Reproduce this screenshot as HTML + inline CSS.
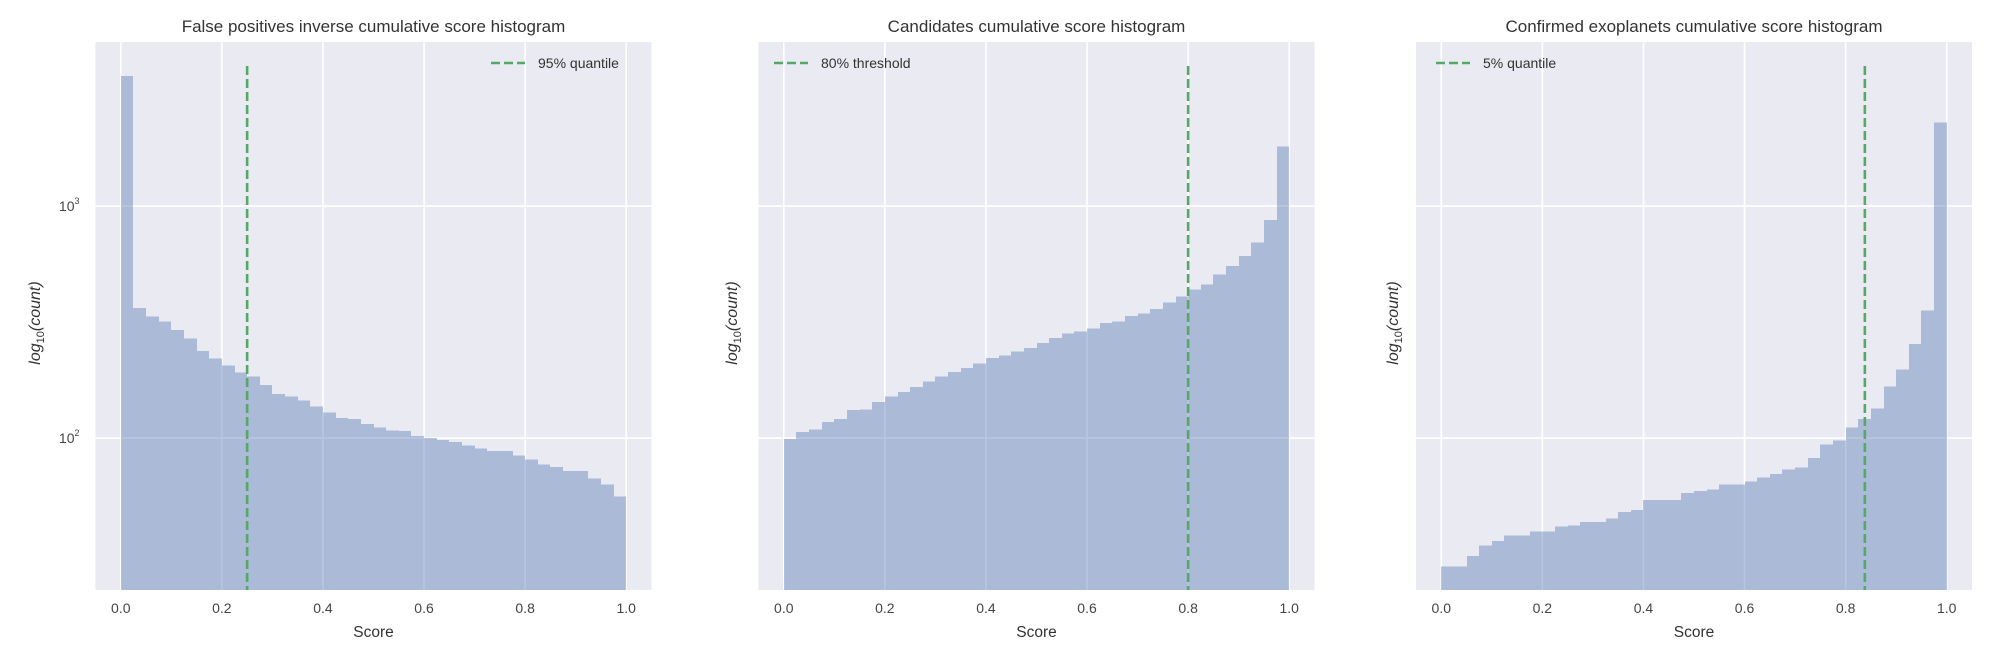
<!DOCTYPE html>
<html><head><meta charset="utf-8"><style>
body{margin:0;background:#fff;width:2006px;height:662px;overflow:hidden}
svg{display:block;font-family:"Liberation Sans",Arial,sans-serif}
</style></head><body>
<svg id="fig" width="2006" height="662" viewBox="0 0 2006 662" xmlns="http://www.w3.org/2000/svg"></svg>
<script>
const binEdges = [0,0.025,0.05,0.075,0.1,0.125,0.15,0.175,0.2,0.225,0.25,0.275,0.3,0.325,0.35,0.375,0.4,0.425,0.45,0.475,0.5,0.525,0.55,0.575,0.6,0.625,0.65,0.675,0.7,0.725,0.75,0.775,0.8,0.825,0.85,0.875,0.9,0.925,0.95,0.975,1.0];
const fpCounts = [3630,363,334,318,292,268,237,220,205,192,184,169,155,151,145,137,129,122,121,115,111,108,107,102,100,98,96,93,90,88,88,84,81,77,75,72,72,67,63,56];
const candCounts = [99,106,109,117,121,132,133,143,151,158,166,175,184,193,200,210,221,227,236,244,257,270,282,288,297,313,318,335,345,359,384,408,436,459,507,552,610,695,871,1803];
const confCounts = [28,28,31,34.5,36,38,38,39.5,39.5,41.5,42,43.5,43.5,45,48,49,54,54,54,58,59,60,63,63,65,67.5,70,73,74.5,82,94,97.5,111,121,134,167,197,254,354,2290];
const xTicks = [0,0.2,0.4,0.6,0.8,1.0];
const xTickLabels = ["0.0","0.2","0.4","0.6","0.8","1.0"];
const yTicks = [100,1000];
const thresholds = [0.25,0.8,0.838];
const titles = ["False positives inverse cumulative score histogram","Candidates cumulative score histogram","Confirmed exoplanets cumulative score histogram"];
const legendLabels = ["95% quantile","80% threshold","5% quantile"];

const NS="http://www.w3.org/2000/svg";
const svg=document.getElementById('fig');
function mk(tag,attrs,parent){const e=document.createElementNS(NS,tag);for(const k in attrs)e.setAttribute(k,attrs[k]);(parent||svg).appendChild(e);return e;}

const panels=[{left:95.5,counts:fpCounts,legX:491,ylabX:35,showY:true},
              {left:758.5,counts:candCounts,legX:774,ylabX:732,showY:false},
              {left:1416,counts:confCounts,legX:1436,ylabX:1393,showY:false}];
const plotW=556, plotTop=42, plotBottom=590;
const logMin=1.345, logMax=3.707;
function yScale(v){return plotBottom-(Math.log10(v)-logMin)/(logMax-logMin)*(plotBottom-plotTop);}

panels.forEach((p,i)=>{
  const g=mk('g',{});
  
  
  function xScale(v){return p.left+plotW*(v+0.05)/1.1;}
  const bg=mk('rect',{x:p.left,y:plotTop,width:plotW,height:plotBottom-plotTop,fill:'#eaeaf2'},g);
  
  
  xTicks.forEach((t,j)=>{
    const l=mk('line',{x1:xScale(t),x2:xScale(t),y1:plotTop,y2:plotBottom,stroke:'#fff','stroke-width':1.6},g);
    
    
    const tx=mk('text',{x:xScale(t),y:613,'font-size':14,fill:'#444','text-anchor':'middle'},g);
    
    
    tx.textContent=xTickLabels[j];
  });
  yTicks.forEach(t=>{
    const l=mk('line',{x1:p.left,x2:p.left+plotW,y1:yScale(t),y2:yScale(t),stroke:'#fff','stroke-width':1.6},g);
    
    
    if(p.showY){
      const tx=mk('text',{x:p.left-16,y:yScale(t)+5,'font-size':14,fill:'#444','text-anchor':'end'},g);
      
      
      tx.textContent='10';
      const sup=mk('tspan',{'font-size':9,dy:-7},tx);
      sup.textContent=String(Math.round(Math.log10(t)));
    }
  });
  p.counts.forEach((c,k)=>{
    const x0=Math.round(xScale(binEdges[k])), x1=Math.round(xScale(binEdges[k+1]));
    const r=mk('rect',{x:x0,y:yScale(c),width:x1-x0,height:plotBottom-yScale(c),fill:'#4c72b0','fill-opacity':0.4,'shape-rendering':'crispEdges'},g);
    
    
  });
  const th=mk('line',{x1:xScale(thresholds[i]),x2:xScale(thresholds[i]),y1:66,y2:plotBottom,stroke:'#55a868','stroke-width':2.6,'stroke-dasharray':'9,4'},g);
  
  
  const lg=mk('g',{},g);
  
  
  mk('line',{x1:p.legX,x2:p.legX+34,y1:63,y2:63,stroke:'#55a868','stroke-width':2.6,'stroke-dasharray':'9,4'},lg);
  const lt=mk('text',{x:p.legX+47,y:68,'font-size':14,fill:'#333'},lg);
  lt.textContent=legendLabels[i];
  const tt=mk('text',{x:p.left+plotW/2,y:32,'font-size':17,fill:'#333','text-anchor':'middle'},g);
  
  
  tt.textContent=titles[i];
  const xl=mk('text',{x:p.left+plotW/2,y:637,'font-size':15.5,fill:'#333','text-anchor':'middle'},g);
  
  
  xl.textContent='Score';
  const yl=mk('text',{x:0,y:0,'font-size':16,fill:'#333','text-anchor':'middle','font-style':'italic',transform:`translate(${p.ylabX+5},323) rotate(-90)`},g);
  
  
  yl.textContent='log';
  const sub=mk('tspan',{'font-size':11,dy:4,'font-style':'normal'},yl);
  sub.textContent='10';
  const rest=mk('tspan',{dy:-4},yl);
  rest.textContent='(count)';
});
</script>
</body></html>
